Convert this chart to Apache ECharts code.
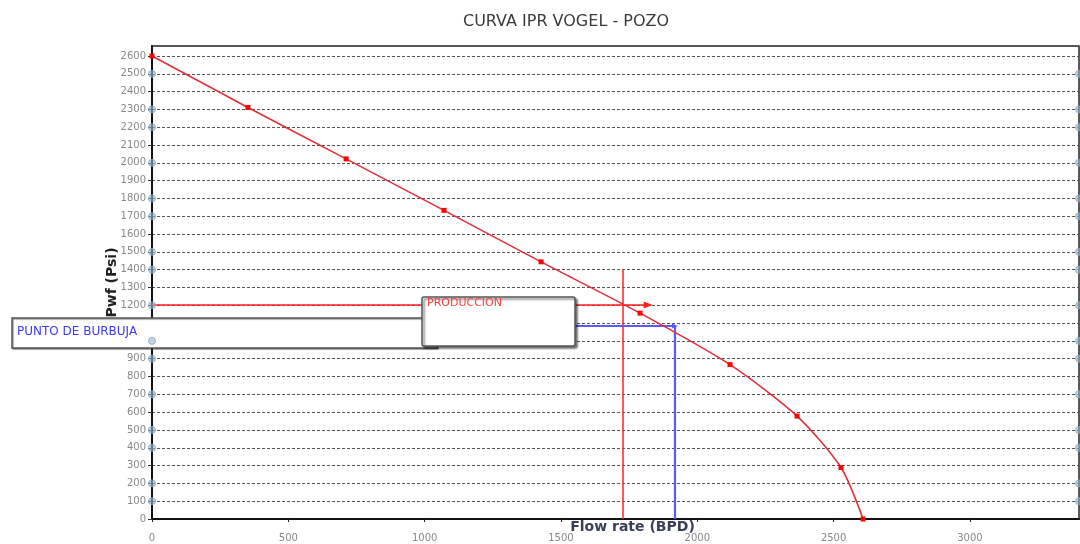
<!DOCTYPE html>
<html>
<head>
<meta charset="utf-8">
<script src="https://cdn.jsdelivr.net/npm/echarts@6/dist/echarts.min.js"></script>
<style>html,body{margin:0;padding:0;background:#fff}#c{width:1080px;height:544px}</style>
</head>
<body>
<div id="c"></div>
<script>
// IPR curve points
const flowRate = [0, 352, 712, 1071, 1427, 1790, 2120, 2366, 2527, 2608];
const pwf = [2600, 2311, 2022, 1733, 1444, 1156, 867, 578, 289, 0];
// operating (production) point and bubble point
const prodQ = 1728, prodP = 1202, prodArrowQ = 1820, prodTopP = 1399;
const bubbleQ = 1918, bubbleP = 1084;
// handle circles seen on the plot border
const handleP = [2500, 2300, 2200, 2000, 1800, 1700, 1500, 1400, 1200, 1000, 900, 700, 500, 400, 200, 100];
const xMax = 3400, yMax = 2656;

const chart = echarts.init(document.getElementById('c'));
const curve = flowRate.map((q, i) => [q, pwf[i]]);
const handles = [];
handleP.forEach(p => { handles.push([0, p]); handles.push([xMax, p]); });
const F = '"DejaVu Sans"';

chart.setOption({
  animation: false,
  backgroundColor: '#fff',
  title: {
    text: 'CURVA IPR VOGEL - POZO', left: 561, top: 9, textAlign: 'center',
    textStyle: { fontFamily: 'DejaVu Sans', fontSize: 16, fontWeight: 'normal', color: '#3a3a3a' }
  },
  grid: { left: 152, right: 1, top: 46, bottom: 25, show: true, borderColor: '#222', borderWidth: 1.5, backgroundColor: '#fff',
    containLabel: false, outerBoundsMode: 'none' },
  xAxis: {
    type: 'value', min: 0, max: xMax, interval: 500,
    name: 'Flow rate (BPD)', nameLocation: 'middle', nameGap: 1, nameMoveOverlap: false,
    nameTextStyle: { fontFamily: 'DejaVu Sans', fontSize: 14, fontWeight: 'bold', color: '#3a3f55', padding: [0, 0, 0, 34] },
    axisLine: { lineStyle: { color: '#111', width: 2 } },
    axisTick: { show: true, length: 3, lineStyle: { color: '#222' } },
    axisLabel: { margin: 14, fontFamily: 'DejaVu Sans', fontSize: 10, color: '#888',
      formatter: v => (v % 500 === 0 && v <= 3000) ? String(v) : '', showMaxLabel: false },
    splitLine: { show: false }
  },
  yAxis: {
    type: 'value', min: 0, max: yMax, interval: 100,
    name: 'Pwf (Psi)', nameLocation: 'middle', nameGap: 33, nameRotate: 90, nameMoveOverlap: false,
    nameTextStyle: { fontFamily: 'DejaVu Sans', fontSize: 14, fontWeight: 'bold', color: '#222' },
    axisLine: { show: true, lineStyle: { color: '#111', width: 2 } },
    axisTick: { show: true, length: 4, lineStyle: { color: '#333' } },
    axisLabel: { margin: 6, fontFamily: 'DejaVu Sans', fontSize: 10, color: '#888',
      formatter: v => (v % 100 === 0 && v <= 2600) ? String(v) : '', showMaxLabel: false },
    splitLine: { show: true, lineStyle: { color: '#555', type: [3, 2], width: 1 } }
  },
  graphic: [
    { type: 'rect', z: 50, shape: { x: 12, y: 318, width: 425, height: 30 },
      style: { fill: '#fff', stroke: '#555', lineWidth: 1.5, shadowBlur: 1, shadowOffsetX: 1, shadowOffsetY: 1, shadowColor: 'rgba(0,0,0,0.4)' } },
    { type: 'text', z: 51, left: 17, top: 326,
      style: { text: 'PUNTO DE BURBUJA', fill: '#3a3aff', font: '12px ' + F } },
    { type: 'rect', z: 52, shape: { x: 422, y: 297, width: 153, height: 49, r: 2 },
      style: { fill: '#fff', stroke: '#555', lineWidth: 1.5, shadowBlur: 2, shadowOffsetX: 2, shadowOffsetY: 2, shadowColor: 'rgba(0,0,0,0.5)' } },
    { type: 'text', z: 53, left: 427, top: 298,
      style: { text: 'PRODUCCION', fill: '#ff4040', font: '11px ' + F } }
  ],
  series: [
    {
      type: 'line', data: curve, smooth: 0.25, symbol: 'rect', symbolSize: 5, clip: false, z: 5,
      lineStyle: { color: '#e0303a', width: 1.6 },
      itemStyle: { color: '#ff0000' }
    },
    {
      type: 'line', data: [], z: 6, clip: false,
      markLine: {
        silent: true, animation: false, symbol: ['none', 'none'], label: { show: false },
        emphasis: { disabled: true },
        data: [
          [{ coord: [0, prodP], symbol: 'none' }, { coord: [prodArrowQ, prodP], symbol: 'triangle', symbolSize: [7, 9], symbolRotate: -90 }],
          [{ coord: [prodQ, prodTopP] }, { coord: [prodQ, 0] }]
        ],
        lineStyle: { color: '#ff2020', width: 1.5, type: 'solid', opacity: 1 }
      }
    },
    {
      type: 'line', data: [], z: 6, clip: false,
      markLine: {
        silent: true, animation: false, symbol: ['none', 'none'], label: { show: false },
        emphasis: { disabled: true },
        data: [
          [{ coord: [0, bubbleP] }, { coord: [bubbleQ, bubbleP], symbol: 'triangle', symbolSize: [5, 6], symbolRotate: -90 }],
          [{ coord: [bubbleQ, bubbleP] }, { coord: [bubbleQ, 0] }]
        ],
        lineStyle: { color: '#5a5aff', width: 2.2, type: 'solid', opacity: 1 }
      }
    },
    {
      type: 'scatter', data: handles, symbol: 'circle', symbolSize: 7, clip: false, z: 100,
      itemStyle: { color: 'rgba(150,185,210,0.75)', borderColor: '#86a8c0', borderWidth: 1 }
    }
  ]
});
</script>
</body>
</html>
